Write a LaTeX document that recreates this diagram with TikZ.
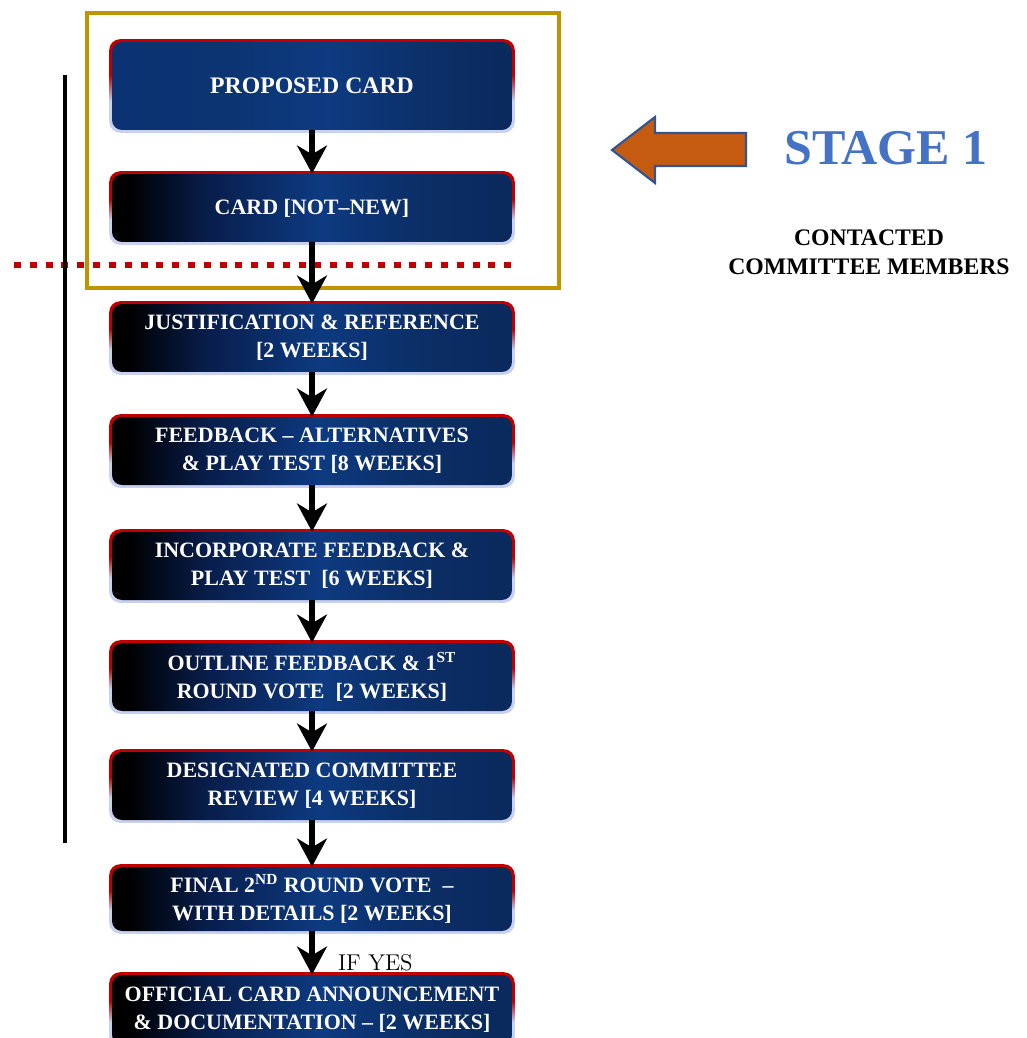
\documentclass[tikz,border=0pt]{standalone}
\usepackage{fontspec}
\newfontfamily\cardfont[Ligatures=TeX]{Liberation Serif}
\usepackage{tikz}
\usetikzlibrary{positioning}
\usetikzlibrary{arrows.meta}
\usetikzlibrary{backgrounds}

\definecolor{cardred}{HTML}{C00000}
\definecolor{cardglow}{HTML}{C9D1F2}
\definecolor{carddark}{HTML}{081E4C}
\definecolor{cardblue}{HTML}{0D3A80}
\definecolor{cardmid}{HTML}{0B2F68}
\definecolor{cardnavy}{HTML}{0A295C}
\definecolor{topblue}{HTML}{0B3272}
\definecolor{goldframe}{HTML}{C09300}
\definecolor{stageblue}{HTML}{4472C4}
\definecolor{arroworange}{HTML}{C55A11}
\definecolor{arrowedge}{HTML}{2F5597}

\pgfdeclarehorizontalshading{cardfade}{100bp}{color(0bp)=(black); color(25bp)=(black);
  color(27bp)=(black); color(37bp)=(carddark); color(51bp)=(cardblue);
  color(62bp)=(cardmid); color(75bp)=(cardnavy); color(100bp)=(cardnavy)}
\pgfdeclarehorizontalshading{topfade}{100bp}{color(0bp)=(topblue); color(25bp)=(topblue);
  color(40bp)=(cardblue!90!black); color(52bp)=(cardblue);
  color(65bp)=(cardmid); color(75bp)=(cardnavy); color(100bp)=(cardnavy)}
\pgfdeclareverticalshading{rimfade}{100bp}{color(0bp)=(cardglow); color(25bp)=(cardglow);
  color(42bp)=(cardglow); color(56bp)=(cardred); color(75bp)=(cardred); color(100bp)=(cardred)}

\tikzset{
  cardbox/.style={rectangle, rounded corners=0.2cm, shade, shading=cardfade,
    text=white, align=center,
    font=\cardfont\bfseries\fontsize{12.5}{16}\selectfont,
    minimum width=8cm, minimum height=1.36cm, inner sep=1pt},
  cardrim/.style={rounded corners=0.22cm, shade, shading=rimfade},
  flow/.style={-{Stealth[length=16pt,width=17pt,inset=5pt]}, line width=3.2pt},
}

\begin{document}
\begin{tikzpicture}[x=0.02cm, y=-0.02cm]
\useasboundingbox (0,0) rectangle (1027,1038);

% frame and markers
\draw[goldframe, line width=2.8pt] (87,13) rectangle (559,288);
\draw[cardred, line width=3.4pt, dash pattern=on 4pt off 5pt] (14,265) -- (512,265);
\draw[line width=2.8pt] (65,75) -- (65,843);

% flow boxes
\node[cardbox, shading=topfade, minimum height=1.76cm,
  font=\cardfont\bfseries\fontsize{13.5}{16}\selectfont] (proposed) at (312,86) {PROPOSED CARD};
\node[cardbox] (notnew) at (312,208) {CARD [NOT--NEW]};
\node[cardbox] (justify) at (312,338) {JUSTIFICATION \& REFERENCE\\\relax [2 WEEKS]};
\node[cardbox] (feedback) at (312,451) {FEEDBACK -- ALTERNATIVES\\\& PLAY TEST [8 WEEKS]};
\node[cardbox] (incorp) at (312,566) {INCORPORATE FEEDBACK \&\\PLAY TEST~~[6 WEEKS]};
\node[cardbox] (outline) at (312,677) {OUTLINE FEEDBACK \& 1\textsuperscript{ST}\\ROUND VOTE~~[2 WEEKS]};
\node[cardbox] (review) at (312,786) {DESIGNATED COMMITTEE\\REVIEW [4 WEEKS]};
\node[cardbox, minimum height=1.28cm] (final) at (312,899) {FINAL 2\textsuperscript{ND} ROUND VOTE~~--\\WITH DETAILS [2 WEEKS]};
\node[cardbox, minimum height=1.4cm] (official) at (312,1010) {OFFICIAL CARD ANNOUNCEMENT\\\& DOCUMENTATION -- [2 WEEKS]};

% rims behind the boxes
\begin{scope}[on background layer]
\foreach \card in {proposed,notnew,justify,feedback,incorp,outline,review,final,official}
  \path[cardrim] ([shift={(-0.05cm,-0.05cm)}]\card.south west) rectangle ([shift={(0.05cm,0.05cm)}]\card.north east);
\end{scope}

% connectors
\draw[flow] (proposed) -- (notnew);
\draw[flow] (notnew) -- (justify);
\draw[flow] (justify) -- (feedback);
\draw[flow] (feedback) -- (incorp);
\draw[flow] (incorp) -- (outline);
\draw[flow] (outline) -- (review);
\draw[flow] (review) -- (final);
\draw[flow] (final) -- (official)
  node[pos=0.72, right=0.35cm, font=\fontsize{13}{15}\selectfont] (ifyes) {IF YES};

% stage marker
\draw[fill=arroworange, draw=arrowedge, line width=1.2pt]
  (612,150) -- (655,117) -- (655,133) -- (746,133) -- (746,166) -- (655,166) -- (655,183) -- cycle;
\node[text=stageblue, font=\cardfont\bfseries\fontsize{28.5}{30}\selectfont] (stage) at (886,148) {STAGE 1};
\node[align=center, font=\cardfont\bfseries\fontsize{13.5}{16.5}\selectfont] (members) at (869,252)
  {CONTACTED\\COMMITTEE MEMBERS};
\end{tikzpicture}
\end{document}
